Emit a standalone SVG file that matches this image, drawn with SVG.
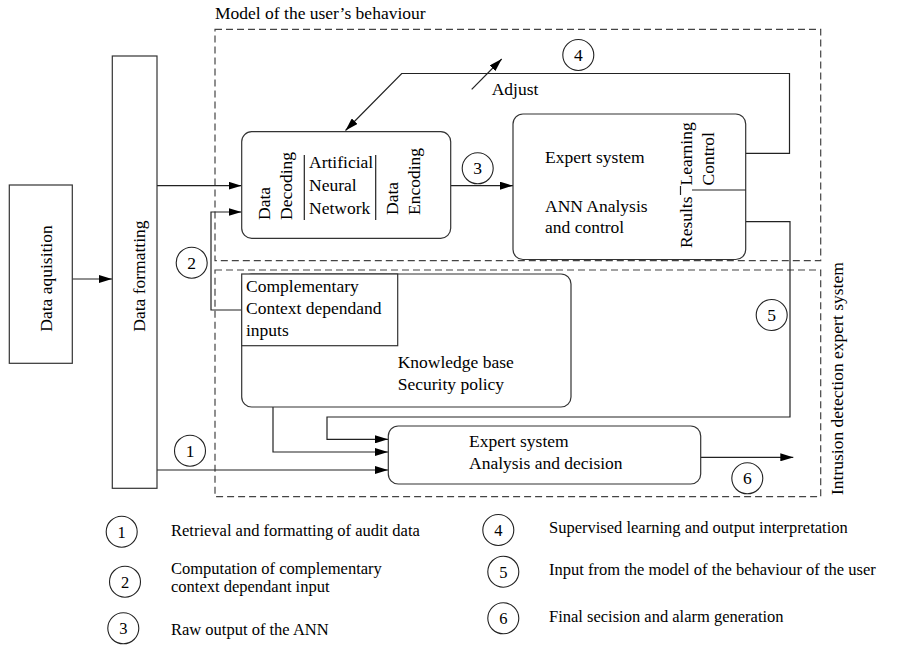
<svg xmlns="http://www.w3.org/2000/svg" width="904" height="648" viewBox="0 0 904 648">
<defs>
<marker id="arr" viewBox="0 0 13 8" refX="13" refY="4" markerWidth="13" markerHeight="8" markerUnits="userSpaceOnUse" orient="auto">
<path d="M0,0 L13,4 L0,8 z" fill="#000"/>
</marker>
<style>
text{font-family:"Liberation Serif","Times New Roman",serif;font-size:17.5px;fill:#000}
.lg{font-size:16.5px}
.box{fill:#fff;stroke:#333;stroke-width:1.2}
.ln{fill:none;stroke:#222;stroke-width:1.2}
.ar{fill:none;stroke:#222;stroke-width:1.2;marker-end:url(#arr)}
.dash{fill:none;stroke:#444;stroke-width:1.2;stroke-dasharray:7 4}
.cir{fill:#fff;stroke:#222;stroke-width:1.1}
.num{text-anchor:middle}
</style>
</defs>
<rect width="904" height="648" fill="#fff"/>

<g id="regions">
<rect class="dash" x="215" y="29.3" width="605.7" height="231.4"/>
<text x="215" y="19">Model of the user’s behaviour</text>
<rect class="dash" x="215" y="270" width="605.7" height="226.7"/>
<text transform="translate(843,495) rotate(-90)">Intrusion detection expert system</text>
</g>

<g id="connectors">
<path class="ar" d="M72.3,279 H112"/>
<path class="ar" d="M157,185.7 H241.5"/>
<path class="ar" d="M242,310 H211 V212 H241.5"/>
<path class="ar" d="M451,185.7 H513"/>
<path class="ar" d="M746,153.3 H789.5 V73.5 H401.7 L345.5,130.5"/>
<path class="ar" d="M471.7,89.3 L501.7,59"/>
<path class="ar" d="M746,221.7 H790 V417 H327 V439.3 H388"/>
<path class="ar" d="M273,407 V452 H388"/>
<path class="ar" d="M157,470 H388"/>
<path class="ar" d="M700.7,457.3 H793.3"/>
<text x="491.7" y="95">Adjust</text>
</g>

<g id="data-aquisition">
<rect class="box" x="9.3" y="185" width="63" height="178.3"/>
<text transform="translate(51.5,331.7) rotate(-90)">Data aquisition</text>
</g>

<g id="data-formatting">
<rect class="box" x="112.3" y="56" width="44.7" height="432.3"/>
<text transform="translate(145,331.7) rotate(-90)">Data formatting</text>
</g>

<g id="ann">
<rect class="box" x="241.7" y="131.7" width="209" height="106.6" rx="10"/>
<text transform="translate(270,220) rotate(-90)">Data</text>
<text transform="translate(292,220) rotate(-90)">Decoding</text>
<line class="ln" x1="304.3" y1="155" x2="304.3" y2="220"/>
<text x="309" y="168">Artificial</text>
<text x="309" y="190.7">Neural</text>
<text x="309" y="214">Network</text>
<line class="ln" x1="375.7" y1="155" x2="375.7" y2="220"/>
<text transform="translate(398,215) rotate(-90)">Data</text>
<text transform="translate(420,215) rotate(-90)">Encoding</text>
</g>

<g id="expert-ann">
<rect class="box" x="513" y="114" width="232.7" height="145.5" rx="10"/>
<text x="545" y="162.7">Expert system</text>
<text x="545" y="211.7">ANN Analysis</text>
<text x="545" y="233.3">and control</text>
<text transform="translate(692,185.5) rotate(-90)">Learning</text>
<text transform="translate(714,185.5) rotate(-90)">Control</text>
<text transform="translate(692,248) rotate(-90)">Results</text>
<line class="ln" x1="680.5" y1="186" x2="680.5" y2="195"/>
<line class="ln" x1="692" y1="190" x2="745.7" y2="190"/>
</g>

<g id="knowledge-base">
<rect class="box" x="241.7" y="274" width="329.3" height="133" rx="10"/>
<rect class="box" x="241.7" y="274" width="156" height="71.7"/>
<text x="246" y="291.7">Complementary</text>
<text x="246" y="314">Context dependand</text>
<text x="246" y="336">inputs</text>
<text x="397.7" y="368">Knowledge base</text>
<text x="397.7" y="389.5">Security policy</text>
</g>

<g id="expert-decision">
<rect class="box" x="388.3" y="426" width="312.4" height="58" rx="10"/>
<text x="469" y="446.7">Expert system</text>
<text x="469" y="468.5">Analysis and decision</text>
</g>

<g id="markers">
<circle class="cir" cx="190" cy="450.7" r="15.5"/><text class="num" x="190" y="456.7">1</text>
<circle class="cir" cx="191.7" cy="262.7" r="15.5"/><text class="num" x="191.7" y="268.7">2</text>
<circle class="cir" cx="477.7" cy="168.3" r="15.5"/><text class="num" x="477.7" y="174.3">3</text>
<circle class="cir" cx="578.3" cy="55" r="15.5"/><text class="num" x="578.3" y="61">4</text>
<circle class="cir" cx="771.7" cy="315" r="15.5"/><text class="num" x="771.7" y="321">5</text>
<circle class="cir" cx="747.3" cy="478.3" r="15.5"/><text class="num" x="747.3" y="484.3">6</text>
</g>

<g id="legend">
<circle class="cir" cx="121.7" cy="531.7" r="15.5"/><text class="num lg" x="121.7" y="537.5">1</text>
<text class="lg" x="171" y="535.7">Retrieval and formatting of audit data</text>
<circle class="cir" cx="125" cy="581.7" r="15.5"/><text class="num lg" x="125" y="587.5">2</text>
<text class="lg" x="171" y="574">Computation of complementary</text>
<text class="lg" x="171" y="591.7">context dependant input</text>
<circle class="cir" cx="123.3" cy="628.3" r="15.5"/><text class="num lg" x="123.3" y="634.1">3</text>
<text class="lg" x="171" y="635">Raw output of the ANN</text>
<circle class="cir" cx="498.3" cy="530" r="15.5"/><text class="num lg" x="498.3" y="535.8">4</text>
<text class="lg" x="549" y="533.3">Supervised learning and output interpretation</text>
<circle class="cir" cx="503.3" cy="571.7" r="15.5"/><text class="num lg" x="503.3" y="577.5">5</text>
<text class="lg" x="549" y="575">Input from the model of the behaviour of the user</text>
<circle class="cir" cx="503.3" cy="618.3" r="15.5"/><text class="num lg" x="503.3" y="624.1">6</text>
<text class="lg" x="549" y="621.7">Final secision and alarm generation</text>
</g>
</svg>
